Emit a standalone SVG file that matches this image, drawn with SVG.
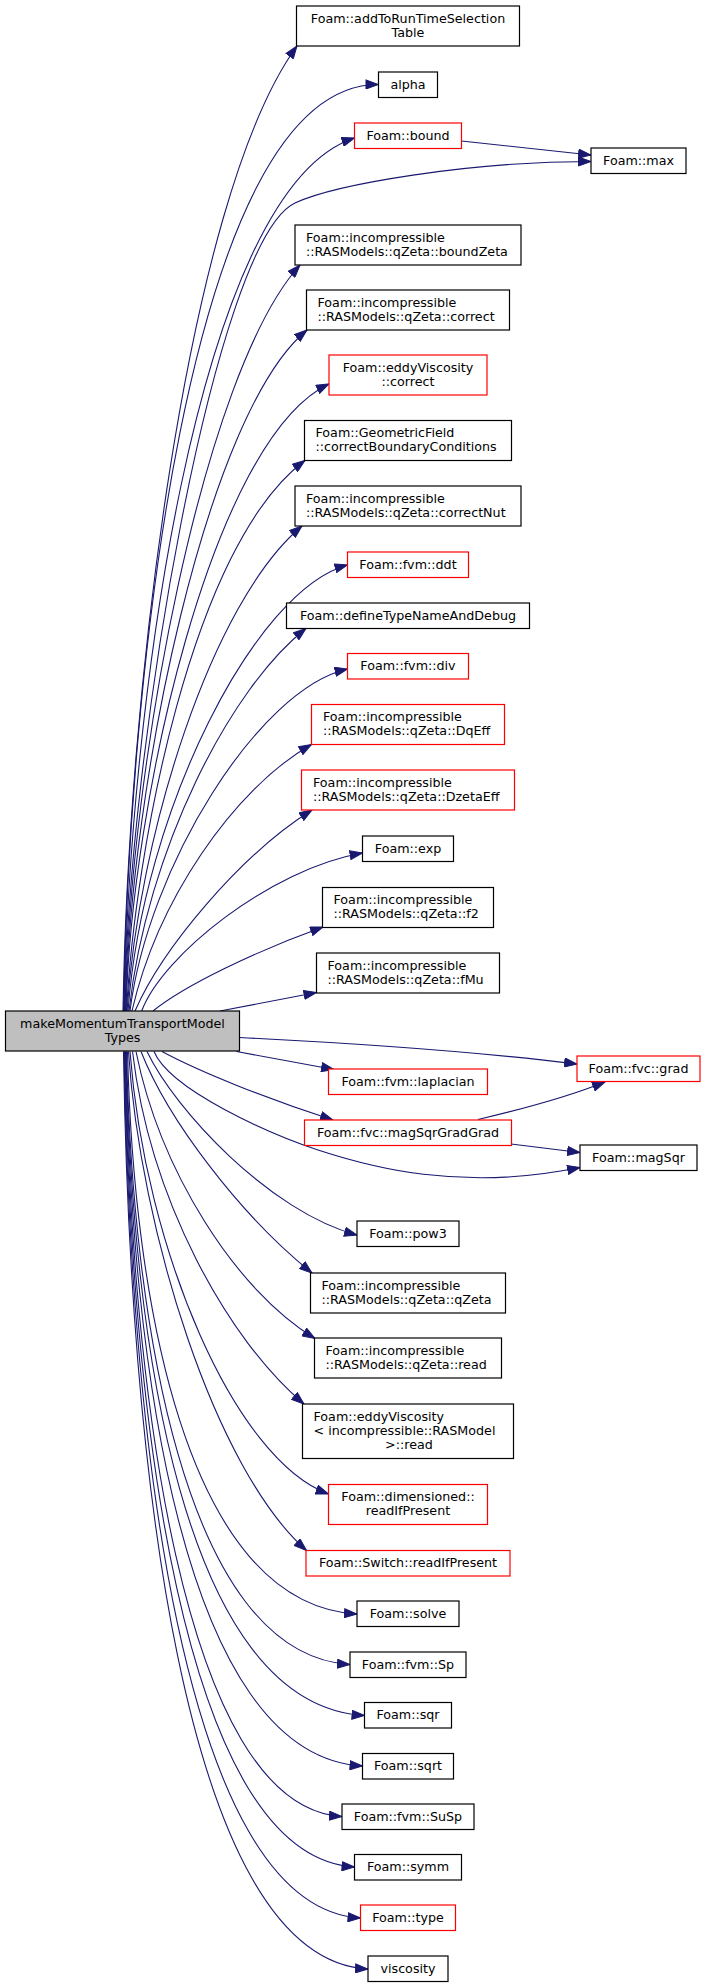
<svg xmlns="http://www.w3.org/2000/svg" width="705" height="1987" viewBox="0 0 705 1987">
<style>
.n rect{fill:#fff;stroke:#000;stroke-width:1.2}
.n.r rect{stroke:#f00}
.n.m rect{fill:#bfbfbf}
text{font-family:"DejaVu Sans",sans-serif;font-size:12.7px;fill:#000}
.c{text-anchor:middle}
#edges path{fill:none;stroke:#191970;stroke-width:1.1;marker-end:url(#a)}
</style>
<defs>
<marker id="a" markerUnits="userSpaceOnUse" markerWidth="14" markerHeight="10" refX="13" refY="5" orient="auto">
<path d="M0.5,0.5 L13,5 L0.5,9.5 Z" fill="#191970" stroke="#191970" stroke-width="1"/>
</marker>
</defs>
<rect width="705" height="1987" fill="#fff"/>
<g id="edges">
<path d="M123,1011 C128,700 185,200 297,46"/>
<path d="M123.5,1011 C128.5,710 183,84 378.5,84.5"/>
<path d="M124,1011 C129,723 194,190 354.5,138"/>
<path d="M124.5,1011 C128,750 215,240 295,203 C336,184 470,161.5 591,161.5"/>
<path d="M461.5,141 L591,155"/>
<path d="M125,1011 C130,765 203,372 300,265"/>
<path d="M125.5,1011 C130.5,786 206,413 307,330"/>
<path d="M126,1011 C131,804 212,439 329,384"/>
<path d="M126.5,1011 C135,850 192,544 305,460.5"/>
<path d="M127,1011 C138.5,836 211,602 302,526"/>
<path d="M128,1011 C143,810 255,590 347.5,565"/>
<path d="M129,1011 C147,850 230,688 306,628.5"/>
<path d="M130,1011 C148,867 258.5,689 347.5,669"/>
<path d="M132,1011 C157,902 232.5,789.5 311.5,744.5"/>
<path d="M135,1011 C162,949 240,855 312,810"/>
<path d="M141.7,1011 C162,956 270,869 362.5,853"/>
<path d="M153,1011 C185,985 256.5,951 323,927"/>
<path d="M220,1011 L316.5,992.5"/>
<path d="M239.5,1037.5 C350,1043 480,1052 577,1064"/>
<path d="M236.5,1051.5 L334,1069.5"/>
<path d="M162,1051.5 C200,1072 270,1100 333,1120"/>
<path d="M154,1051.5 C170,1090 270,1134 318,1150 C370,1167 460,1192 580,1167.5"/>
<path d="M478,1119.5 C510,1112 560,1100 605,1082"/>
<path d="M511,1144 L580,1152.5"/>
<path d="M147,1051.5 C175,1110 270,1212 357,1235"/>
<path d="M141,1051.5 C168,1120 240,1215 312,1273"/>
<path d="M136,1051.5 C160,1170 235,1290 315,1338.5"/>
<path d="M132.5,1051.5 C150,1200 228,1340 304,1404"/>
<path d="M130,1051.5 C145,1250 235,1460 328.5,1494"/>
<path d="M128.5,1051.5 C140,1230 215,1470 306.5,1550.5"/>
<path d="M127.5,1051.5 C133.5,1296 184.5,1604 357,1614"/>
<path d="M126.5,1051.5 C132.5,1318 183.5,1654.5 350,1664.5"/>
<path d="M126,1051.5 C132,1340.5 183,1705.5 364.5,1715.5"/>
<path d="M125.5,1051.5 C131.5,1362 182.5,1756 362.5,1766"/>
<path d="M125,1051.5 C131,1384 182,1807 342,1816.5"/>
<path d="M124.5,1051.5 C130.5,1406 181.5,1857 354.5,1867"/>
<path d="M124,1051.5 C130,1428 181,1908 360.5,1918"/>
<path d="M123.5,1051.5 C129.5,1450.6 180.5,1959 368,1969"/>
</g>
<g id="n1" class="n"><rect x="296.5" y="6" width="223" height="40"/><text class="c" x="408" y="22.6">Foam::addToRunTimeSelection</text><text class="c" x="408" y="36.9">Table</text></g>
<g id="n2" class="n"><rect x="378.5" y="72" width="59" height="25.5"/><text class="c" x="408" y="88.6">alpha</text></g>
<g id="n3" class="n r"><rect x="354.5" y="123" width="107" height="25.5"/><text class="c" x="408" y="139.6">Foam::bound</text></g>
<g id="n4" class="n"><rect x="591" y="148" width="95" height="25.5"/><text class="c" x="638.5" y="164.6">Foam::max</text></g>
<g id="n5" class="n"><rect x="295" y="225" width="226" height="40"/><text x="306" y="241.6">Foam::incompressible</text><text x="306" y="255.9">::RASModels::qZeta::boundZeta</text></g>
<g id="n6" class="n"><rect x="306.5" y="290" width="203" height="40"/><text x="317.5" y="306.6">Foam::incompressible</text><text x="317.5" y="320.9">::RASModels::qZeta::correct</text></g>
<g id="n7" class="n r"><rect x="329" y="355" width="158" height="40"/><text class="c" x="408" y="371.6">Foam::eddyViscosity</text><text class="c" x="408" y="385.9">::correct</text></g>
<g id="n8" class="n"><rect x="304.5" y="420.5" width="207" height="40"/><text x="315.5" y="437.1">Foam::GeometricField</text><text x="315.5" y="451.4">::correctBoundaryConditions</text></g>
<g id="n9" class="n"><rect x="295" y="486" width="226" height="40"/><text x="306" y="502.6">Foam::incompressible</text><text x="306" y="516.9">::RASModels::qZeta::correctNut</text></g>
<g id="n10" class="n r"><rect x="347.5" y="552" width="121" height="25.5"/><text class="c" x="408" y="568.6">Foam::fvm::ddt</text></g>
<g id="n11" class="n"><rect x="286.5" y="603" width="243" height="25.5"/><text class="c" x="408" y="619.6">Foam::defineTypeNameAndDebug</text></g>
<g id="n12" class="n r"><rect x="347.5" y="653.5" width="121" height="25.5"/><text class="c" x="408" y="670.1">Foam::fvm::div</text></g>
<g id="n13" class="n r"><rect x="311.5" y="704.5" width="193" height="40"/><text x="323" y="721.1">Foam::incompressible</text><text x="323" y="735.4">::RASModels::qZeta::DqEff</text></g>
<g id="n14" class="n r"><rect x="301.5" y="770" width="213" height="40"/><text x="313" y="786.6">Foam::incompressible</text><text x="313" y="800.9">::RASModels::qZeta::DzetaEff</text></g>
<g id="n15" class="n"><rect x="362.5" y="836" width="91" height="25.5"/><text class="c" x="408" y="852.6">Foam::exp</text></g>
<g id="n16" class="n"><rect x="322.5" y="887.5" width="171" height="40"/><text x="333.5" y="904.1">Foam::incompressible</text><text x="333.5" y="918.4">::RASModels::qZeta::f2</text></g>
<g id="n17" class="n"><rect x="316.5" y="953" width="183" height="40"/><text x="327.5" y="969.6">Foam::incompressible</text><text x="327.5" y="983.9">::RASModels::qZeta::fMu</text></g>
<g id="n18" class="n m"><rect x="5.5" y="1011" width="234" height="40"/><text class="c" x="122.5" y="1027.6">makeMomentumTransportModel</text><text class="c" x="122.5" y="1041.9">Types</text></g>
<g id="n19" class="n r"><rect x="577" y="1056" width="123" height="25.5"/><text class="c" x="638.5" y="1072.6">Foam::fvc::grad</text></g>
<g id="n20" class="n r"><rect x="328.5" y="1069" width="159" height="25.5"/><text class="c" x="408" y="1085.6">Foam::fvm::laplacian</text></g>
<g id="n21" class="n r"><rect x="304.5" y="1120" width="207" height="25.5"/><text class="c" x="408" y="1136.6">Foam::fvc::magSqrGradGrad</text></g>
<g id="n22" class="n"><rect x="580" y="1145" width="117" height="25.5"/><text class="c" x="638.5" y="1161.6">Foam::magSqr</text></g>
<g id="n23" class="n"><rect x="357" y="1221" width="102" height="25.5"/><text class="c" x="408" y="1237.6">Foam::pow3</text></g>
<g id="n24" class="n"><rect x="310.5" y="1273" width="195" height="40"/><text x="321.5" y="1289.6">Foam::incompressible</text><text x="321.5" y="1303.9">::RASModels::qZeta::qZeta</text></g>
<g id="n25" class="n"><rect x="314.5" y="1338" width="187" height="40"/><text x="325.5" y="1354.6">Foam::incompressible</text><text x="325.5" y="1368.9">::RASModels::qZeta::read</text></g>
<g id="n26" class="n"><rect x="302.5" y="1404" width="211" height="54.5"/><text x="313.5" y="1420.6">Foam::eddyViscosity</text><text x="313.5" y="1434.9">&lt; incompressible::RASModel</text><text class="c" x="409" y="1449.2">&gt;::read</text></g>
<g id="n27" class="n r"><rect x="328.5" y="1484.5" width="159" height="40"/><text class="c" x="408" y="1501.1">Foam::dimensioned::</text><text class="c" x="408" y="1515.4">readIfPresent</text></g>
<g id="n28" class="n r"><rect x="306" y="1550.5" width="204" height="25.5"/><text class="c" x="408" y="1567.1">Foam::Switch::readIfPresent</text></g>
<g id="n29" class="n"><rect x="357" y="1601" width="102" height="25.5"/><text class="c" x="408" y="1617.6">Foam::solve</text></g>
<g id="n30" class="n"><rect x="350" y="1652" width="116" height="25.5"/><text class="c" x="408" y="1668.6">Foam::fvm::Sp</text></g>
<g id="n31" class="n"><rect x="364.5" y="1702.5" width="87" height="25.5"/><text class="c" x="408" y="1719.1">Foam::sqr</text></g>
<g id="n32" class="n"><rect x="362.5" y="1753.5" width="91" height="25.5"/><text class="c" x="408" y="1770.1">Foam::sqrt</text></g>
<g id="n33" class="n"><rect x="342" y="1804" width="132" height="25.5"/><text class="c" x="408" y="1820.6">Foam::fvm::SuSp</text></g>
<g id="n34" class="n"><rect x="354.5" y="1854.5" width="107" height="25.5"/><text class="c" x="408" y="1871.1">Foam::symm</text></g>
<g id="n35" class="n r"><rect x="360.5" y="1905" width="95" height="25.5"/><text class="c" x="408" y="1921.6">Foam::type</text></g>
<g id="n36" class="n"><rect x="368" y="1956" width="80" height="25.5"/><text class="c" x="408" y="1972.6">viscosity</text></g>
</svg>
